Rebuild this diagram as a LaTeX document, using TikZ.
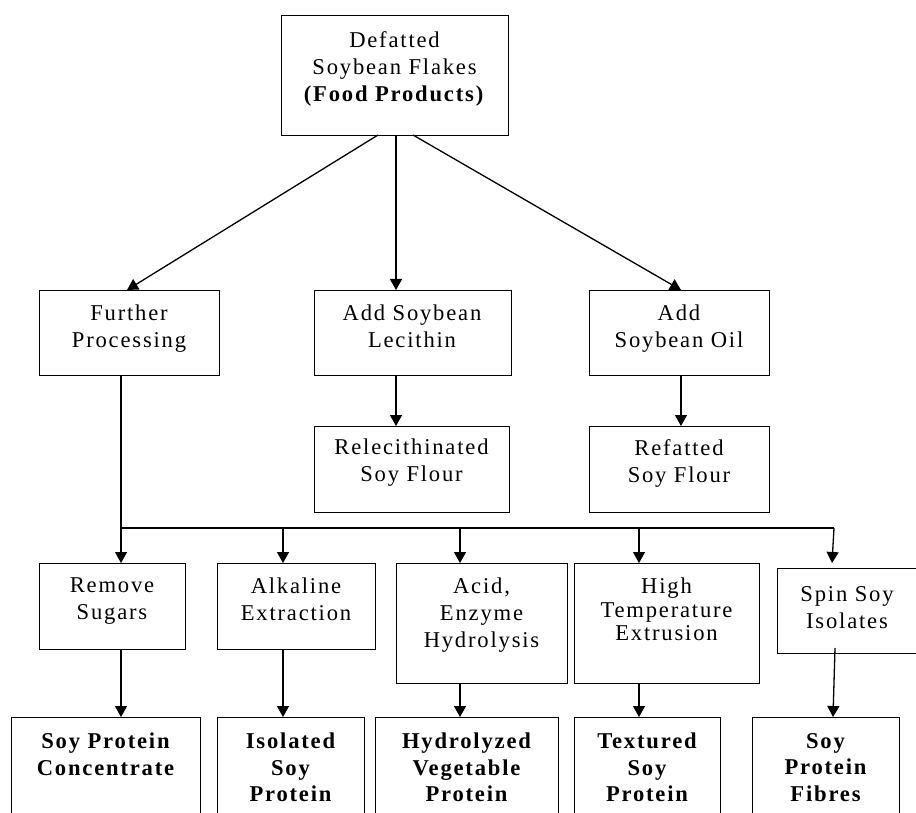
\documentclass[tikz,border=0pt]{standalone}
\usepackage{fontspec}
\setmainfont{Liberation Serif}[LetterSpace=8]
\usetikzlibrary{arrows.meta}
\tikzset{
  box/.style={draw, line width=1.3pt, inner sep=0pt, anchor=north west},
  txt/.style={align=center, inner sep=0pt, anchor=north, font=\fontsize{22.6}{27}\selectfont},
  txtb/.style={txt, font=\fontsize{22.6}{26.5}\selectfont\bfseries},
  arr/.style={line width=1.3pt, -{Triangle[length=11pt,width=12pt]}},
  ln/.style={line width=1.3pt}
}
\begin{document}
\begin{tikzpicture}[x=1pt,y=-1pt]
\useasboundingbox (0,0) rectangle (916,813);
\clip (0,0) rectangle (916,813);
% boxes
\node[box, minimum width=227pt, minimum height=120pt] (top) at (281,15) {};
\node[box, minimum width=180pt, minimum height=85pt] (fp) at (39,290) {};
\node[box, minimum width=197pt, minimum height=85pt] (lec) at (314,290) {};
\node[box, minimum width=180pt, minimum height=85pt] (oil) at (589,290) {};
\node[box, minimum width=195pt, minimum height=86pt] (relec) at (314,426) {};
\node[box, minimum width=180pt, minimum height=86pt] (ref) at (589,426) {};
\node[box, minimum width=146pt, minimum height=86pt] (rs) at (39,563) {};
\node[box, minimum width=158pt, minimum height=86pt] (alk) at (217,563) {};
\node[box, minimum width=171pt, minimum height=120pt] (acid) at (396,563) {};
\node[box, minimum width=185pt, minimum height=120pt] (ht) at (574,563) {};
\node[box, minimum width=140pt, minimum height=85pt] (spin) at (777,568) {};
\node[box, minimum width=189pt, minimum height=120pt] (spc) at (11,717) {};
\node[box, minimum width=147pt, minimum height=120pt] (iso) at (217,717) {};
\node[box, minimum width=183pt, minimum height=120pt] (hyd) at (375,717) {};
\node[box, minimum width=146pt, minimum height=120pt] (tex) at (574,717) {};
\node[box, minimum width=147pt, minimum height=120pt] (fib) at (752,717) {};
% texts
\node[txt] (ttop) at (394.5,31) {Defatted\\Soybean Flakes\\\textbf{(Food Products)}};
\node[txt] (tfp) at (129,305) {Further\\Processing};
\node[txt] (tlec) at (412,305) {Add Soybean\\Lecithin};
\node[txt] (toil) at (679,305) {Add\\Soybean Oil};
\node[txt] (trelec) at (411.5,439) {Relecithinated\\Soy Flour};
\node[txt] (tref) at (679,439) {Refatted\\Soy Flour};
\node[txt] (trs) at (112,577) {Remove\\Sugars};
\node[txt] (talk) at (296,578) {Alkaline\\Extraction};
\node[txt] (tacid) at (481.5,578) {Acid,\\Enzyme\\Hydrolysis};
\node[txt, font=\fontsize{22.6}{23.5}\selectfont] (tht) at (666.5,578) {High\\Temperature\\Extrusion};
\node[txt] (tspin) at (847,586) {Spin Soy\\Isolates};
\node[txtb] (tspc) at (105.5,733) {Soy Protein\\Concentrate};
\node[txtb] (tiso) at (290.5,733) {Isolated\\Soy\\Protein};
\node[txtb] (thyd) at (466.5,733) {Hydrolyzed\\Vegetable\\Protein};
\node[txtb] (ttex) at (647,733) {Textured\\Soy\\Protein};
\node[txtb] (tfib) at (825.5,733) {Soy\\Protein\\Fibres};
% coordinates
\coordinate (tl) at (378,135);
\coordinate (tm) at (396,135);
\coordinate (tr) at (413,135);
\coordinate (b1) at (121,528);
\coordinate (b2) at (283,528);
\coordinate (b3) at (460,528);
\coordinate (b4) at (639,528);
\coordinate (b5) at (834,528);
\coordinate (s1) at (835,648);
\coordinate (s2) at (832,563);
\coordinate (s3) at (833,717);
% connectors
\draw[arr] (tl) -- (127,290);
\draw[arr] (tm) -- (tm |- lec.north);
\draw[arr] (tr) -- (681,290);
\draw[arr] (tm |- lec.south) -- (tm |- relec.north);
\draw[arr] (681,375) -- (681,426);
\draw[ln] (b1 |- fp.south) -- (b1) -- (b5);
\draw[arr] (b1) -- (b1 |- rs.north);
\draw[arr] (b2) -- (b2 |- alk.north);
\draw[arr] (b3) -- (b3 |- acid.north);
\draw[arr] (b4) -- (b4 |- ht.north);
\draw[arr] (b5) -- (s2);
\draw[arr] (b1 |- rs.south) -- (b1 |- spc.north);
\draw[arr] (b2 |- alk.south) -- (b2 |- iso.north);
\draw[arr] (b3 |- acid.south) -- (b3 |- hyd.north);
\draw[arr] (b4 |- ht.south) -- (b4 |- tex.north);
\draw[arr] (s1) -- (s3);
\end{tikzpicture}
\end{document}
